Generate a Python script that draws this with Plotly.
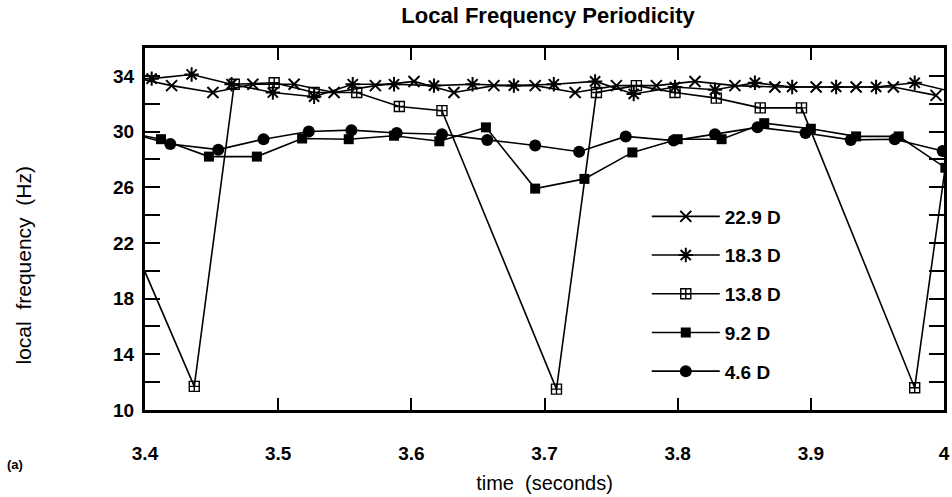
import plotly.graph_objects as go

# ---- data (time in s, local frequency in Hz) ----
t_229 = [3.390, 3.420, 3.451, 3.481, 3.512, 3.542, 3.573, 3.602, 3.632, 3.662, 3.693,
         3.723, 3.754, 3.784, 3.813, 3.843, 3.873, 3.904, 3.934, 3.962, 3.994]
f_229 = [33.9, 33.3, 32.8, 33.4, 33.4, 32.8, 33.3, 33.6, 32.8, 33.3, 33.3,
         32.8, 33.3, 33.3, 33.6, 33.3, 33.2, 33.2, 33.2, 33.2, 32.6]

t_183 = [3.405, 3.435, 3.465, 3.496, 3.527, 3.556, 3.587, 3.617, 3.646, 3.677, 3.707,
         3.738, 3.767, 3.798, 3.828, 3.858, 3.886, 3.919, 3.949, 3.978, 4.009]
f_183 = [33.8, 34.1, 33.4, 32.8, 32.5, 33.4, 33.4, 33.3, 33.4, 33.3, 33.4,
         33.6, 32.7, 33.2, 33.0, 33.5, 33.2, 33.2, 33.2, 33.5, 32.8]

t_138 = [3.347, 3.437, 3.467, 3.497, 3.527, 3.559, 3.591, 3.623, 3.709, 3.739, 3.769,
         3.798, 3.829, 3.862, 3.893, 3.978, 4.009]
f_138 = [31.7, 11.7, 33.4, 33.5, 32.8, 32.8, 31.8, 31.5, 11.5, 32.8, 33.3,
         32.8, 32.4, 31.7, 31.7, 11.6, 33.0]

t_92 = [3.378, 3.412, 3.448, 3.484, 3.518, 3.553, 3.587, 3.621, 3.656, 3.693, 3.730,
        3.766, 3.800, 3.833, 3.865, 3.900, 3.934, 3.966, 4.001]
f_92 = [30.1, 29.45, 28.2, 28.2, 29.5, 29.45, 29.7, 29.3, 30.3, 25.9, 26.6,
        28.5, 29.45, 29.45, 30.6, 30.2, 29.65, 29.65, 27.4]

t_46 = [3.384, 3.419, 3.455, 3.489, 3.523, 3.555, 3.589, 3.623, 3.657, 3.693, 3.726,
        3.761, 3.797, 3.828, 3.860, 3.896, 3.930, 3.963, 3.999]
f_46 = [30.0, 29.1, 28.7, 29.45, 30.0, 30.1, 29.9, 29.8, 29.4, 29.0, 28.55,
        29.65, 29.35, 29.8, 30.3, 29.9, 29.4, 29.45, 28.6]

series_names = ["22.9 D", "18.3 D", "13.8 D", "9.2 D", "4.6 D"]
x_tickvals = [3.4, 3.5, 3.6, 3.7, 3.8, 3.9, 4.0]
x_ticktext = ["3.4", "3.5", "3.6", "3.7", "3.8", "3.9", "4"]
y_tickvals = [10, 12, 14, 16, 18, 20, 22, 24, 26, 28, 30, 32, 34, 36]
y_ticktext = ["10", "", "14", "", "18", "", "22", "", "26", "", "30", "", "34", ""]

FONT = "Liberation Sans, Arial, sans-serif"

styles = [
    ("x-thin-open", 11, 2.0),
    ("asterisk-open", 12, 2.0),
    ("square-cross-open", 10, 1.4),
    ("square", 10, 0),
    ("circle", 12, 0),
]
data = [(t_229, f_229), (t_183, f_183), (t_138, f_138), (t_92, f_92), (t_46, f_46)]

fig = go.Figure()
for name, (tt, ff), (sym, size, lw) in zip(series_names, data, styles):
    fig.add_trace(go.Scatter(
        x=tt, y=ff, name=name, mode="lines+markers", legendgroup=name,
        line=dict(color="black", width=1.6),
        marker=dict(symbol=sym, size=size, color="black",
                    line=dict(color="black", width=lw)),
    ))

fig.update_layout(
    width=952, height=497,
    margin=dict(l=145, r=2, t=48, b=87),
    paper_bgcolor="white", plot_bgcolor="white",
    font=dict(family=FONT, color="black", size=19),
    title=dict(text="Local Frequency Periodicity", x=0.5757, xanchor="center",
               y=0.970, yanchor="middle",
               font=dict(size=22, weight="bold", family=FONT)),
    showlegend=True,
    legend=dict(x=0.628, y=0.587, xanchor="left", yanchor="top",
                bgcolor="rgba(0,0,0,0)", borderwidth=0,
                itemwidth=68, tracegroupgap=11, traceorder="grouped",
                font=dict(size=19, weight="bold", family=FONT)),
)

fig.update_xaxes(
    range=[3.4, 4.0], tickmode="array", tickvals=x_tickvals, ticktext=x_ticktext,
    ticks="inside", ticklen=12, tickwidth=2, tickcolor="black",
    showline=True, linewidth=3, linecolor="black", mirror="allticks",
    showgrid=False, zeroline=False, ticklabelstandoff=24, ticklabeloverflow="allow",
    tickfont=dict(size=19, weight="bold", family=FONT),
    title=dict(text="time  (seconds)", font=dict(size=20, family=FONT), standoff=14),
)
fig.update_yaxes(
    range=[10, 36], tickmode="array", tickvals=y_tickvals, ticktext=y_ticktext,
    ticks="inside", ticklen=15, tickwidth=2, tickcolor="black",
    showline=True, linewidth=3, linecolor="black", mirror="allticks",
    showgrid=False, zeroline=False, ticklabelstandoff=4,
    tickfont=dict(size=19, weight="bold", family=FONT),
)

fig.add_annotation(text="local  frequency  (Hz)", textangle=-90, showarrow=False,
                   xref="paper", yref="paper", x=-0.152, y=0.398,
                   xanchor="center", yanchor="middle",
                   font=dict(size=21, family=FONT))
fig.add_annotation(text="(a)", showarrow=False, xref="paper", yref="paper",
                   x=-0.163, y=-0.15, xanchor="center", yanchor="middle",
                   font=dict(size=13, weight="bold", family=FONT))

fig.write_html("out.html")
